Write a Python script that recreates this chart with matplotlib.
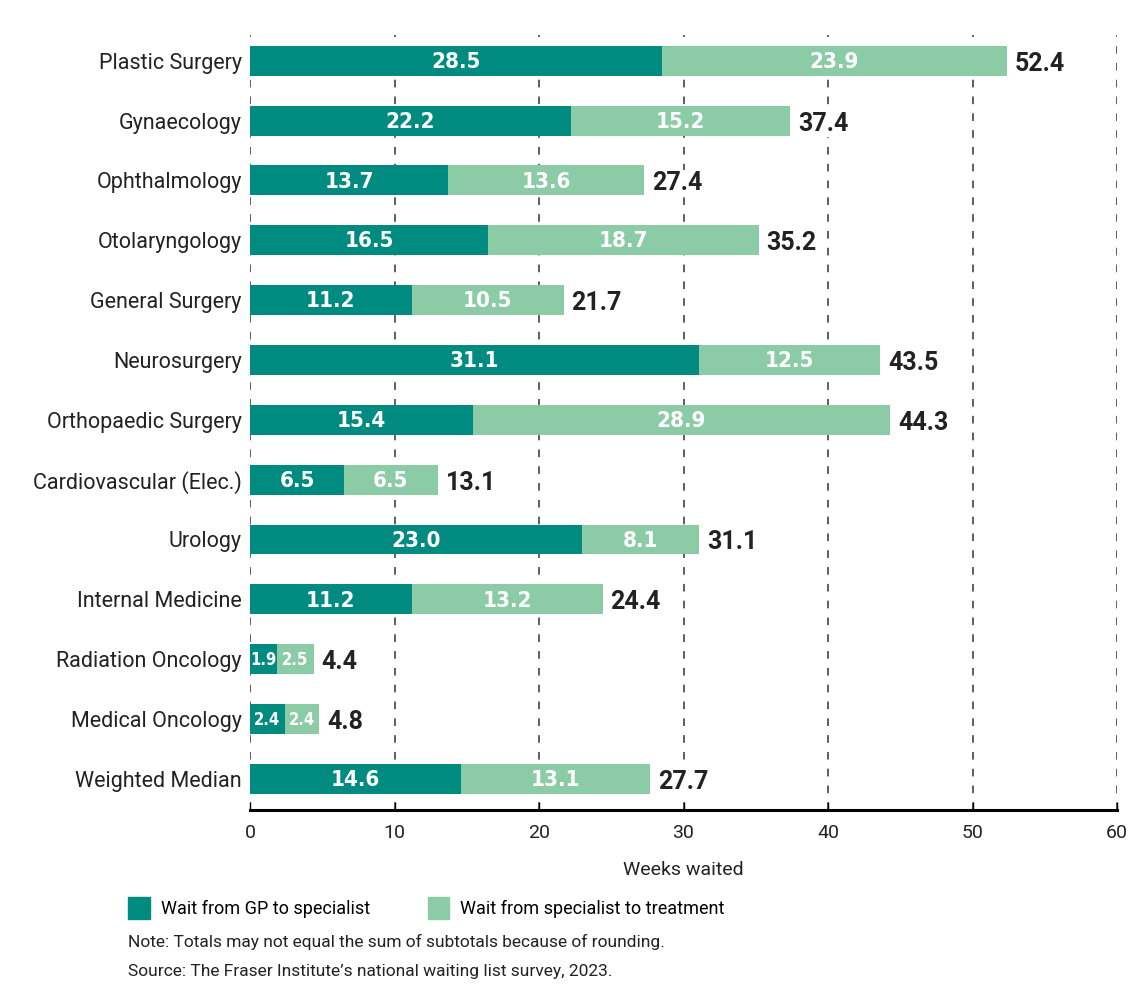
import matplotlib.pyplot as plt
import matplotlib.patches as mpatches
import numpy as np

categories = ['Plastic Surgery', 'Gynaecology', 'Ophthalmology', 'Otolaryngology',
              'General Surgery', 'Neurosurgery', 'Orthopaedic Surgery',
              'Cardiovascular (Elec.)', 'Urology', 'Internal Medicine',
              'Radiation Oncology', 'Medical Oncology', 'Weighted Median']
gp_to_spec = [28.5, 22.2, 13.7, 16.5, 11.2, 31.1, 15.4, 6.5, 23.0, 11.2, 1.9, 2.4, 14.6]
spec_to_treat = [23.9, 15.2, 13.6, 18.7, 10.5, 12.5, 28.9, 6.5, 8.1, 13.2, 2.5, 2.4, 13.1]
totals = [52.4, 37.4, 27.4, 35.2, 21.7, 43.5, 44.3, 13.1, 31.1, 24.4, 4.4, 4.8, 27.7]
xticks = [0, 10, 20, 30, 40, 50, 60]

dark = '#008b81'
light = '#8bcba6'
txt = '#222222'
cond = ['DejaVu Sans']
reg = ['Roboto', 'DejaVu Sans']

fig = plt.figure(figsize=(11.43, 9.97), dpi=100)
ax = fig.add_axes([250 / 1143, 1 - 810 / 997, 867 / 1143, 775 / 997])
ax.set_axisbelow(True)

y = np.arange(len(categories))
ax.barh(y, gp_to_spec, height=0.5, color=dark, zorder=3)
ax.barh(y, spec_to_treat, left=gp_to_spec, height=0.5, color=light, zorder=3)

for i in range(len(categories)):
    a, b = gp_to_spec[i], spec_to_treat[i]
    for xc, v in [(a / 2, a), (a + b / 2, b)]:
        fs = 16 if v >= 3 else 12
        ax.text(xc, i + 0.02, f'{v:.1f}', ha='center', va='center', color='white',
                fontsize=fs, fontweight='bold', family=cond, fontstretch='condensed', zorder=4)
    ax.text(a + b + 0.55, i + 0.05, f'{totals[i]:.1f}', ha='left', va='center', color=txt,
            fontsize=18, fontweight='bold', family=reg, zorder=4,
            bbox=dict(facecolor='white', edgecolor='none', pad=1))

ax.set_xlim(0, 60)
ax.set_ylim(12.52, -0.43)
ax.set_xticks(xticks)
ax.set_xticklabels([str(t) for t in xticks], fontsize=14, family=reg, color=txt)
ax.set_yticks(y)
ax.set_yticklabels(categories, fontsize=15.5, family=reg, color=txt)
ax.tick_params(axis='y', length=0, pad=6)
ax.tick_params(axis='x', direction='in', length=6, width=1, pad=10)
ax.grid(axis='x', color='#333333', linestyle=(0, (5, 6)), linewidth=1.1)
for s in ['top', 'right', 'left']:
    ax.spines[s].set_visible(False)
ax.spines['bottom'].set_linewidth(2.2)
ax.spines['bottom'].set_zorder(5)
ax.set_xlabel('Weeks waited', fontsize=14, family=reg, color=txt, labelpad=14)

handles = [mpatches.Patch(color=dark, label='Wait from GP to specialist'),
           mpatches.Patch(color=light, label='Wait from specialist to treatment')]
fig.legend(handles=handles, loc='center left', bbox_to_anchor=(112 / 1143, 1 - 908 / 997),
           ncol=2, frameon=False, prop={'family': reg, 'size': 13},
           handlelength=1.2, handleheight=1.5, handletextpad=0.6, columnspacing=3.2)

fig.text(128 / 1143, 1 - 942 / 997, 'Note: Totals may not equal the sum of subtotals because of rounding.',
         fontsize=12.5, family=reg, color=txt, va='center')
fig.text(128 / 1143, 1 - 971 / 997, "Source: The Fraser Institute\u2019s national waiting list survey, 2023.",
         fontsize=12.5, family=reg, color=txt, va='center')

plt.savefig('out.png', dpi=100)
